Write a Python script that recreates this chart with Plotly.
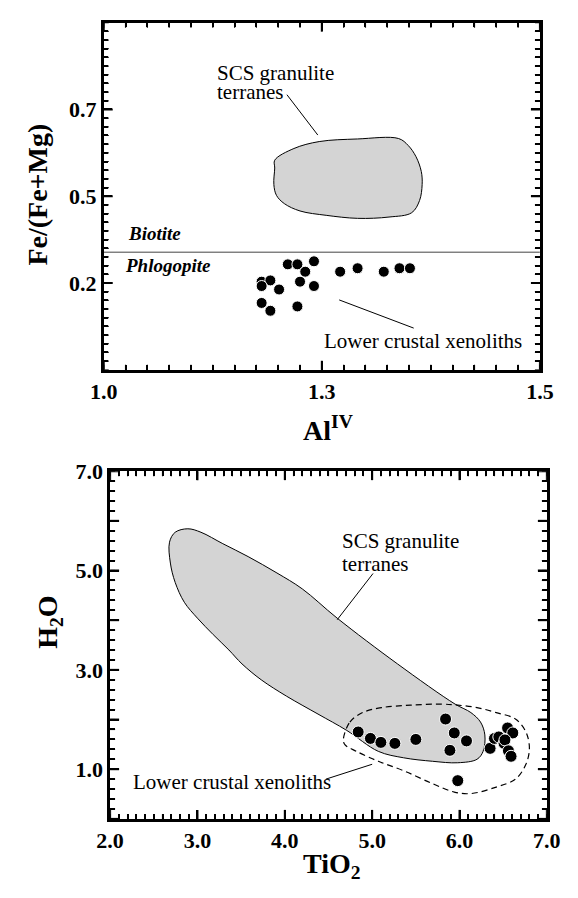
import plotly.graph_objects as go

FONT = "Liberation Serif"

# ---------------- Top panel: Fe/(Fe+Mg) vs Al(IV) ----------------
top_al_iv = [1.211, 1.222, 1.241, 1.231, 1.271, 1.291, 1.321, 1.339, 1.351,
             1.181, 1.191, 1.181, 1.201, 1.225, 1.241, 1.181, 1.191, 1.222]
top_fe_ratio = [0.343, 0.343, 0.350, 0.326, 0.326, 0.334, 0.326, 0.334, 0.334,
                0.303, 0.306, 0.293, 0.285, 0.303, 0.293, 0.254, 0.236, 0.246]

top_scs_x = [1.196, 1.218, 1.247, 1.291, 1.338, 1.349, 1.358, 1.364, 1.365, 1.362,
             1.353, 1.327, 1.291, 1.255, 1.225, 1.207, 1.198, 1.195, 1.196, 1.196]
top_scs_y = [0.583, 0.610, 0.626, 0.632, 0.633, 0.617, 0.591, 0.557, 0.527, 0.490,
             0.462, 0.452, 0.449, 0.456, 0.466, 0.483, 0.502, 0.527, 0.565, 0.583]

biotite_phlogopite_boundary = 0.371
top_x_range = [1.0, 1.5]
top_y_range = [0.1, 0.9]
# tick label text as printed in the original figure
top_x_labelalias = {"1": "1.0", "1.25": "1.3", "1.5": "1.5"}
top_y_labelalias = {"0.1": " ", "0.3": "0.2", "0.9": " "}
top_x_major = [1.0, 1.25, 1.5]
top_y_major = [0.3, 0.5, 0.7]

top_scs_leader_x = [1.210, 1.2454]
top_scs_leader_y = [0.734, 0.641]
top_xen_leader_x = [1.2699, 1.3553]
top_xen_leader_y = [0.261, 0.196]

# ---------------- Bottom panel: H2O vs TiO2 ----------------
bot_tio2 = [4.84, 4.98, 5.10, 5.26, 5.50, 5.84, 5.94, 6.08, 5.89, 6.35,
            6.40, 6.45, 6.51, 6.55, 6.61, 6.52, 6.56, 6.59, 5.98]
bot_h2o = [1.75, 1.62, 1.54, 1.52, 1.60, 2.01, 1.73, 1.57, 1.38, 1.42,
           1.62, 1.65, 1.52, 1.83, 1.73, 1.59, 1.37, 1.26, 0.77]

bot_scs_x = [2.68, 2.745, 2.89, 3.04, 3.29, 3.58, 3.91, 4.20, 4.60, 5.29, 5.95, 6.13,
             6.24, 6.29, 6.27, 6.20, 5.98, 5.69, 5.36, 5.07, 4.71, 4.38, 4.02, 3.73,
             3.51, 3.36, 3.18, 3.00, 2.85, 2.745, 2.69, 2.68]
bot_scs_y = [5.57, 5.77, 5.84, 5.77, 5.54, 5.28, 4.95, 4.63, 4.04, 3.12, 2.31, 2.14,
             1.95, 1.69, 1.36, 1.20, 1.13, 1.16, 1.23, 1.36, 1.78, 2.11, 2.47, 2.80,
             3.12, 3.40, 3.71, 4.04, 4.36, 4.76, 5.15, 5.57]

bot_xen_x = [4.67, 4.745, 4.89, 5.11, 5.44, 5.80, 5.98, 6.20, 6.42, 6.64, 6.76, 6.80,
             6.76, 6.64, 6.42, 6.13, 5.94, 5.69, 5.36, 5.07, 4.82, 4.69, 4.67]
bot_xen_y = [1.59, 1.95, 2.14, 2.24, 2.29, 2.31, 2.29, 2.24, 2.14, 2.01, 1.75, 1.42,
             1.10, 0.80, 0.64, 0.51, 0.54, 0.71, 0.97, 1.16, 1.36, 1.49, 1.59]

bot_x_range = [2.0, 7.0]
bot_y_range = [0.0, 7.0]
bot_x_labelalias = {"2": "2.0", "3": "3.0", "4": "4.0", "5": "5.0", "6": "6.0", "7": "7.0"}
bot_y_labelalias = {"0": " ", "1": "1.0", "2": " ", "3": "3.0", "4": " ",
                    "5": "5.0", "6": " ", "7": "7.0"}
bot_x_major = [2, 3, 4, 5, 6, 7]
bot_y_major = [0, 1, 2, 3, 4, 5, 6, 7]

bot_scs_leader_x = [5.01, 4.60]
bot_scs_leader_y = [4.94, 4.01]
bot_xen_leader_x = [4.47, 5.00]
bot_xen_leader_y = [0.80, 1.10]

# minor tick positions (axis decoration)
top_x_minor = [round(1.0 + 0.025 * i, 4) for i in range(21)]
top_y_minor = [round(0.1 + 0.02 * i, 4) for i in range(41)]
bot_x_minor = [round(2.0 + 0.1 * i, 4) for i in range(51)]
bot_y_minor = [round(0.0 + 0.2 * i, 4) for i in range(36)]

# ---------------- Figure ----------------
W, H = 578, 898
fig = go.Figure()

FILL = "#d4d4d4"

# top panel traces
fig.add_trace(go.Scatter(x=top_scs_x, y=top_scs_y, mode="lines", fill="toself",
                         fillcolor=FILL, line=dict(color="black", width=1, shape="spline"),
                         xaxis="x", yaxis="y"))
fig.add_trace(go.Scatter(x=top_x_range, y=[biotite_phlogopite_boundary] * 2, mode="lines",
                         line=dict(color="#444", width=1), xaxis="x", yaxis="y"))
fig.add_trace(go.Scatter(x=top_scs_leader_x, y=top_scs_leader_y, mode="lines",
                         line=dict(color="black", width=1), xaxis="x", yaxis="y"))
fig.add_trace(go.Scatter(x=top_xen_leader_x, y=top_xen_leader_y, mode="lines",
                         line=dict(color="black", width=1), xaxis="x", yaxis="y"))
fig.add_trace(go.Scatter(x=top_al_iv, y=top_fe_ratio, mode="markers",
                         marker=dict(size=11, color="black", line=dict(color="white", width=1)),
                         xaxis="x", yaxis="y"))

# bottom panel traces
fig.add_trace(go.Scatter(x=bot_scs_x, y=bot_scs_y, mode="lines", fill="toself",
                         fillcolor=FILL, line=dict(color="black", width=1, shape="spline"),
                         xaxis="x2", yaxis="y2"))
fig.add_trace(go.Scatter(x=bot_xen_x, y=bot_xen_y, mode="lines",
                         line=dict(color="black", width=1.2, dash="6px,4px", shape="spline"),
                         xaxis="x2", yaxis="y2"))
fig.add_trace(go.Scatter(x=bot_scs_leader_x, y=bot_scs_leader_y, mode="lines",
                         line=dict(color="black", width=1), xaxis="x2", yaxis="y2"))
fig.add_trace(go.Scatter(x=bot_xen_leader_x, y=bot_xen_leader_y, mode="lines",
                         line=dict(color="black", width=1), xaxis="x2", yaxis="y2"))
fig.add_trace(go.Scatter(x=bot_tio2, y=bot_h2o, mode="markers",
                         marker=dict(size=12, color="black", line=dict(color="white", width=1)),
                         xaxis="x2", yaxis="y2"))

tickfont = dict(family=FONT, size=22, weight="bold", color="black")
axis_common = dict(showline=True, linewidth=2.5, linecolor="black", mirror="allticks",
                   ticks="inside", ticklen=9, tickwidth=2, tickcolor="black",
                   showgrid=False, zeroline=False, tickfont=tickfont)
minor_common = dict(ticks="inside", ticklen=5, tickcolor="black")

fig.update_layout(
    width=W, height=H,
    margin=dict(l=0, r=0, t=0, b=0),
    paper_bgcolor="white", plot_bgcolor="white",
    showlegend=False,
    xaxis=dict(domain=[94.3 / W, 552.7 / W], range=top_x_range, anchor="y",
               dtick=0.25, labelalias=top_x_labelalias,
               minor=dict(dtick=0.025, **minor_common), **axis_common),
    yaxis=dict(domain=[1 - 368 / H, 1 - 11 / H], range=top_y_range, anchor="x",
               tick0=0.1, dtick=0.2, labelalias=top_y_labelalias,
               minor=dict(dtick=0.02, **minor_common), **axis_common),
    xaxis2=dict(domain=[101 / W, 560 / W], range=bot_x_range, anchor="y2",
                dtick=1, labelalias=bot_x_labelalias,
                minor=dict(dtick=0.1, **minor_common), **axis_common),
    yaxis2=dict(domain=[1 - 830 / H, 1 - 472.3 / H], range=bot_y_range, anchor="x2",
                dtick=1, labelalias=bot_y_labelalias,
                minor=dict(dtick=0.2, **minor_common), **axis_common),
)

# explicit inward tick marks on all four sides of each frame
shapes = []
def x_ticks(xref, ydom, vals, length, width):
    for v in vals:
        for anchor, sign in ((0, 1), (1, -1)):
            shapes.append(dict(type="line", xref=xref, yref=ydom, x0=v, x1=v,
                               ysizemode="pixel", yanchor=anchor, y0=0, y1=sign * length,
                               line=dict(color="black", width=width)))
def y_ticks(xdom, yref, vals, length, width):
    for v in vals:
        for anchor, sign in ((0, 1), (1, -1)):
            shapes.append(dict(type="line", xref=xdom, yref=yref, y0=v, y1=v,
                               xsizemode="pixel", xanchor=anchor, x0=0, x1=sign * length,
                               line=dict(color="black", width=width)))

x_ticks("x", "y domain", top_x_minor, 5, 1.2)
x_ticks("x", "y domain", top_x_major, 9, 2)
y_ticks("x domain", "y", top_y_minor, 5, 1.2)
y_ticks("x domain", "y", top_y_major, 9, 2)
x_ticks("x2", "y2 domain", bot_x_minor, 5, 1.2)
x_ticks("x2", "y2 domain", bot_x_major, 9, 2)
y_ticks("x2 domain", "y2", bot_y_minor, 5, 1.2)
y_ticks("x2 domain", "y2", bot_y_major, 9, 2)

lab = dict(family=FONT, size=21, color="black")
ann = []
def text(x, y, s, xref, yref, font=lab, xanchor="left"):
    ann.append(dict(x=x, y=y, xref=xref, yref=yref, text=s, showarrow=False,
                    xanchor=xanchor, yanchor="middle", font=font))

# top panel labels
text(1.128, 0.785, "SCS granulite", "x", "y")
text(1.128, 0.741, "terranes", "x", "y")
text(1.2498, 0.167, "Lower crustal xenoliths", "x", "y")
bi = dict(family=FONT, size=19, color="black", weight="bold", style="italic")
text(1.026, 0.414, "Biotite", "x", "y", font=bi)
text(1.0226, 0.341, "Phlogopite", "x", "y", font=bi)

# bottom panel labels
text(4.63, 5.60, "SCS granulite", "x2", "y2")
text(4.63, 5.14, "terranes", "x2", "y2")
text(2.24, 0.75, "Lower crustal xenoliths", "x2", "y2")

# axis titles
tf = dict(family=FONT, size=28, color="black", weight="bold")
ann.append(dict(x=25 / W, y=1 - 188 / H, xref="paper", yref="paper", text="Fe/(Fe+Mg)",
                textangle=-90, showarrow=False, xanchor="center", yanchor="middle", font=tf))
ann.append(dict(x=330 / W, y=1 - 428 / H, xref="paper", yref="paper", text="Al<sup>IV</sup>",
                showarrow=False, xanchor="center", yanchor="middle", font=tf))
ann.append(dict(x=37 / W, y=1 - 628 / H, xref="paper", yref="paper", text="H<sub>2</sub>O",
                textangle=-90, showarrow=False, xanchor="center", yanchor="middle", font=tf))
ann.append(dict(x=334 / W, y=1 - 878 / H, xref="paper", yref="paper", text="TiO<sub>2</sub>",
                showarrow=False, xanchor="center", yanchor="middle", font=tf))

fig.update_layout(annotations=ann, shapes=shapes)

fig.write_html("out.html")
